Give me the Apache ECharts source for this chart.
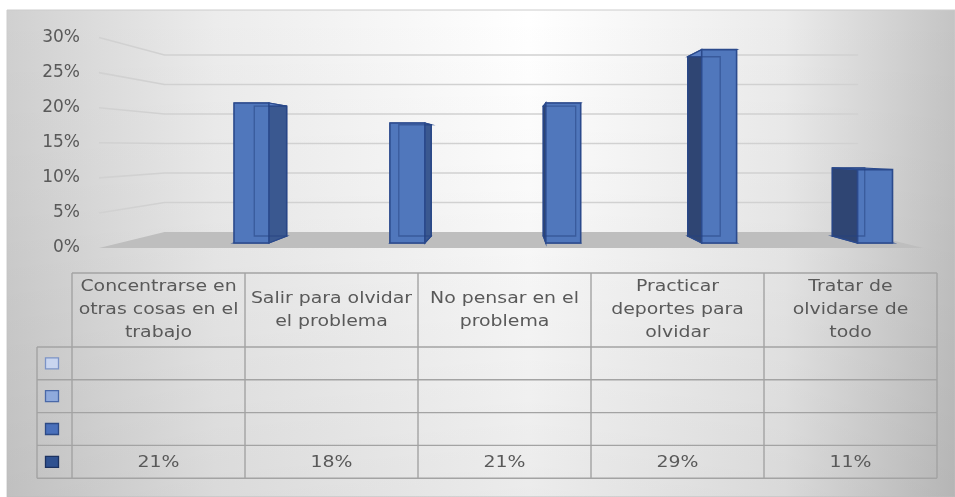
<!DOCTYPE html>
<html>
<head>
<meta charset="utf-8">
<script src="https://cdn.jsdelivr.net/npm/echarts@6/dist/echarts.min.js"></script>
<style>
  html, body { margin: 0; padding: 0; background: #ffffff; }
  #grafico { width: 955px; height: 497px; }
</style>
</head>
<body>
<div id="grafico"></div>
<script>
// Estrategias de afrontamiento: porcentaje de respuestas por estrategia
const categorias = [
  'Concentrarse en\notras cosas en el\ntrabajo',
  'Salir para olvidar\nel problema',
  'No pensar en el\nproblema',
  'Practicar\ndeportes para\nolvidar',
  'Tratar de\nolvidarse de\ntodo'
];
const valores = [21, 18, 21, 29, 11];
const ticksY = [0, 5, 10, 15, 20, 25, 30];
// Claves de color de la tabla de datos (tres filas sin valores y la fila con datos)
const clavesRelleno = ['#c9d5ef', '#8faadc', '#4a70bb', '#2f5190'];
const clavesBorde = ['#7b93c6', '#4a69a8', '#2d4a85', '#1c3260'];

// Perspectiva: punto de fuga en coordenadas de datos y factores de profundidad
const FUGA = [1.67, 14.4];
const S_FONDO_BARRA = 0.927;
const S_PARED = 0.885;
const S_FRENTE = 1.052;
const X_IZQ = -0.847;
const X_DER = 4.18;
const MEDIO_ANCHO = 0.112;

const FUENTE = 'DejaVu Sans';
const GRIS_TEXTO = '#595959';

function proyectar(api, x, v, s) {
  const p = api.coord([x, v]);
  const c = api.coord(FUGA);
  return [c[0] + (p[0] - c[0]) * s, c[1] + (p[1] - c[1]) * s];
}

// Líneas de la pared (pared lateral + pared del fondo)
function dibujarRejilla(params, api) {
  const v = api.value(0);
  return {
    type: 'polyline',
    shape: { points: [
      proyectar(api, X_IZQ, v, S_FRENTE),
      proyectar(api, X_IZQ, v, S_PARED),
      proyectar(api, X_DER, v, S_PARED)
    ] },
    style: { stroke: '#d1d1d1', lineWidth: 1.6, fill: null }
  };
}

// Suelo del gráfico
function dibujarSuelo(params, api) {
  const v = api.value(0);
  return {
    type: 'polygon',
    shape: { points: [
      proyectar(api, X_IZQ, v, S_PARED),
      proyectar(api, X_DER, v, S_PARED),
      proyectar(api, X_DER, v, S_FRENTE),
      proyectar(api, X_IZQ, v, S_FRENTE)
    ] },
    style: { fill: '#bebebe' }
  };
}

// Columnas en 3D: cara trasera, base, lateral, tapa y frente, con las aristas ocultas tenues
function dibujarColumna(params, api) {
  const i = api.value(0);
  const v = api.value(1);
  const x0 = i - MEDIO_ANCHO, x1 = i + MEDIO_ANCHO;
  const F = (x, y) => proyectar(api, x, y, 1);
  const B = (x, y) => proyectar(api, x, y, S_FONDO_BARRA);
  const borde = '#2b4a8c';
  const ladoDerecho = i < FUGA[0];
  const ladoX = ladoDerecho ? x1 : x0;
  const hijos = [
    { type: 'polygon', shape: { points: [B(x0, 0), B(x1, 0), B(x1, v), B(x0, v)] },
      style: { fill: '#3d5c9c', stroke: borde, lineWidth: 1.2 } },
    { type: 'polygon', shape: { points: [F(x0, 0), F(x1, 0), B(x1, 0), B(x0, 0)] },
      style: { fill: '#41609f', stroke: borde, lineWidth: 1.2 } },
    { type: 'polygon', shape: { points: [F(ladoX, 0), B(ladoX, 0), B(ladoX, v), F(ladoX, v)] },
      style: { fill: ladoDerecho ? '#3a5890' : '#2f4573', stroke: borde, lineWidth: 1.3 } },
    { type: 'polygon', shape: { points: [F(x0, v), F(x1, v), B(x1, v), B(x0, v)] },
      style: { fill: '#5a7fc4', stroke: borde, lineWidth: 1.2 } },
    { type: 'polygon', shape: { points: [F(x0, 0), F(x1, 0), F(x1, v), F(x0, v)] },
      style: { fill: '#5077bc', stroke: borde, lineWidth: 1.6 } },
    { type: 'polygon', shape: { points: [B(x0, 0), B(x1, 0), B(x1, v), B(x0, v)] },
      style: { fill: null, stroke: 'rgba(38,68,130,0.55)', lineWidth: 1.3 } }
  ];
  return { type: 'group', children: hijos };
}

// Tabla de datos bajo el gráfico
const tabla = { izq: 37, col0: 72, anchoCol: 173, arriba: 273, altoCab: 74, altoFila: 32.8, escalaTexto: 1.18 };

function elementosTabla() {
  const els = [];
  const linea = { stroke: '#a3a3a3', lineWidth: 1.4 };
  const n = categorias.length;
  const der = tabla.col0 + n * tabla.anchoCol;
  const yCab = tabla.arriba + tabla.altoCab;
  const nFilas = clavesRelleno.length;
  const yFin = yCab + nFilas * tabla.altoFila;
  els.push({ type: 'line', shape: { x1: tabla.col0, y1: tabla.arriba, x2: der, y2: tabla.arriba }, style: linea, z: 5 });
  for (let r = 0; r <= nFilas; r++) {
    const y = yCab + r * tabla.altoFila;
    els.push({ type: 'line', shape: { x1: tabla.izq, y1: y, x2: der, y2: y }, style: linea, z: 5 });
  }
  els.push({ type: 'line', shape: { x1: tabla.izq, y1: yCab, x2: tabla.izq, y2: yFin }, style: linea, z: 5 });
  for (let c = 0; c <= n; c++) {
    const x = tabla.col0 + c * tabla.anchoCol;
    els.push({ type: 'line', shape: { x1: x, y1: tabla.arriba, x2: x, y2: yFin }, style: linea, z: 5 });
  }
  categorias.forEach((cat, c) => {
    els.push({
      type: 'text', x: tabla.col0 + (c + 0.5) * tabla.anchoCol, y: tabla.arriba + tabla.altoCab / 2,
      scaleX: tabla.escalaTexto, z: 6,
      style: { text: cat, font: '16px "' + FUENTE + '"', fill: GRIS_TEXTO, align: 'center', verticalAlign: 'middle', lineHeight: 23 }
    });
  });
  for (let r = 0; r < nFilas; r++) {
    const yc = yCab + (r + 0.5) * tabla.altoFila;
    els.push({ type: 'rect', shape: { x: tabla.izq + 8.5, y: yc - 5.5, width: 13, height: 11 },
      style: { fill: clavesRelleno[r], stroke: clavesBorde[r], lineWidth: 1.3 }, z: 6 });
  }
  const yValores = yCab + (nFilas - 0.5) * tabla.altoFila;
  valores.forEach((v, c) => {
    els.push({
      type: 'text', x: tabla.col0 + (c + 0.5) * tabla.anchoCol, y: yValores + 1,
      scaleX: tabla.escalaTexto, z: 6,
      style: { text: v + '%', font: '16px "' + FUENTE + '"', fill: GRIS_TEXTO, align: 'center', verticalAlign: 'middle' }
    });
  });
  return els;
}

const fondo = [
  { type: 'rect', x: 7, y: 10, shape: { width: 948, height: 487 }, z: -10, silent: true,
    style: { fill: { type: 'linear', x: 0, y: 0, x2: 1, y2: 0, colorStops: [
      { offset: 0, color: '#d0d0d0' }, { offset: 0.22, color: '#ececec' },
      { offset: 0.55, color: '#ffffff' }, { offset: 0.82, color: '#ebebeb' }, { offset: 1, color: '#c4c4c4' }
    ] }, stroke: '#cccccc', lineWidth: 1 } },
  { type: 'rect', x: 7, y: 10, shape: { width: 948, height: 487 }, z: -9, silent: true,
    style: { fill: { type: 'linear', x: 0, y: 0, x2: 0, y2: 1, colorStops: [
      { offset: 0, color: 'rgba(0,0,0,0)' }, { offset: 0.35, color: 'rgba(0,0,0,0.02)' }, { offset: 1, color: 'rgba(0,0,0,0.08)' }
    ] } } }
];

const grafico = echarts.init(document.getElementById('grafico'), null, { renderer: 'canvas' });
grafico.setOption({
  animation: false,
  backgroundColor: 'transparent',
  grid: [
    { left: 173.5, right: 2, top: 43, bottom: 254 },
    { left: 99, width: 20, top: 37.6, bottom: 249 }
  ],
  xAxis: [
    { type: 'value', gridIndex: 0, min: -0.5, max: 4.5, show: false },
    { type: 'value', gridIndex: 1, min: 0, max: 1, show: false }
  ],
  yAxis: [
    { type: 'value', gridIndex: 0, min: 0, max: 30, interval: 5, show: false },
    { type: 'value', gridIndex: 1, min: 0, max: 30, interval: 5,
      axisLine: { show: false }, axisTick: { show: false }, splitLine: { show: false },
      axisLabel: { formatter: '{value}%', color: GRIS_TEXTO, fontSize: 17, fontFamily: FUENTE, margin: 19 } }
  ],
  graphic: { elements: fondo.concat(elementosTabla()) },
  series: [
    { type: 'custom', name: 'rejilla', xAxisIndex: 0, yAxisIndex: 0, silent: true, z: 1,
      renderItem: dibujarRejilla, data: ticksY.filter(v => v > 0).map(v => [v]), encode: { y: 0 } },
    { type: 'custom', name: 'suelo', xAxisIndex: 0, yAxisIndex: 0, silent: true, z: 2,
      renderItem: dibujarSuelo, data: [[ticksY[0]]], encode: { y: 0 } },
    { type: 'custom', name: 'Estrategias', xAxisIndex: 0, yAxisIndex: 0, z: 3,
      renderItem: dibujarColumna, data: valores.map((v, i) => [i, v]), encode: { x: 0, y: 1 } }
  ]
});
</script>
</body>
</html>
